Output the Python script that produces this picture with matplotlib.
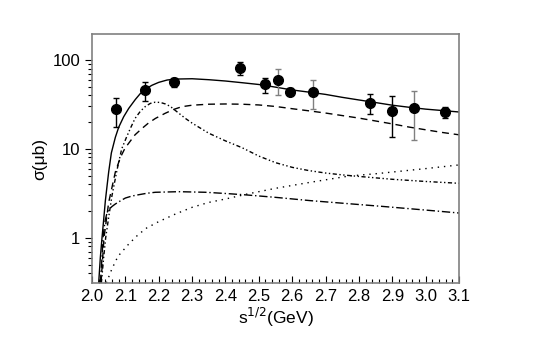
import numpy as np
import matplotlib
matplotlib.use("Agg")
import matplotlib.pyplot as plt
from matplotlib.ticker import MultipleLocator, LogLocator, FixedLocator, NullFormatter

plt.rcParams['font.family'] = ['Liberation Sans', 'DejaVu Sans']

# ==============================
# Data
# ==============================
data_x = [2.071, 2.160, 2.245, 2.445, 2.520, 2.557, 2.593, 2.663, 2.834, 2.900, 2.964, 3.057]
data_y = [27.9, 45.7, 56.0, 80.7, 53.4, 59.6, 44.0, 43.4, 33.0, 26.9, 28.9, 26.0]
err_hi = [37.7, 56.0, 62.0, 95.0, 63.0, 79.0, 48.0, 59.0, 41.0, 39.8, 44.5, 29.4]
err_lo = [17.5, 35.0, 49.8, 68.0, 43.0, 40.0, 40.0, 28.0, 24.5, 13.5, 12.6, 22.3]
gray_bars = [2.557, 2.663, 2.964]

# total (solid)
tot_x = [2.020, 2.025, 2.030, 2.035, 2.040, 2.045, 2.050, 2.058, 2.070, 2.080, 2.095,
         2.110, 2.130, 2.145, 2.160, 2.180, 2.200, 2.225, 2.250, 2.300, 2.350, 2.400,
         2.450, 2.500, 2.550, 2.600, 2.650, 2.700, 2.750, 2.800, 2.850, 2.900, 2.950,
         3.000, 3.050, 3.100]
tot_y = [0.31, 0.60, 1.00, 1.60, 2.60, 3.80, 5.50, 9.00, 13.5, 17.5, 23.0,
         28.5, 36.0, 42.0, 47.0, 52.0, 56.0, 59.5, 61.0, 61.5, 60.0, 58.0,
         55.5, 53.0, 49.5, 46.0, 43.5, 41.0, 38.0, 35.5, 33.2, 31.0, 29.4,
         28.0, 27.0, 26.0]

# dashed
dsh_x = [2.027, 2.036, 2.050, 2.070, 2.085, 2.099, 2.129, 2.150, 2.169, 2.190, 2.219,
         2.245, 2.269, 2.300, 2.350, 2.400, 2.450, 2.500, 2.550, 2.600, 2.650, 2.700,
         2.750, 2.800, 2.850, 2.900, 2.950, 3.000, 3.050, 3.100]
dsh_y = [0.31, 1.00, 2.50, 5.50, 8.00, 10.2, 14.4, 17.0, 19.5, 22.0, 25.1,
         27.8, 29.8, 31.0, 31.8, 32.0, 31.8, 31.2, 30.0, 28.3, 26.8, 25.3,
         23.7, 22.2, 20.6, 19.1, 17.6, 16.4, 15.3, 14.4]

# dash-dot-dot
ddd_x = [2.028, 2.035, 2.041, 2.050, 2.060, 2.075, 2.089, 2.104, 2.115, 2.129, 2.145,
         2.160, 2.175, 2.189, 2.205, 2.220, 2.235, 2.250, 2.280, 2.300, 2.350, 2.400,
         2.450, 2.500, 2.550, 2.600, 2.650, 2.700, 2.750, 2.800, 2.900, 3.000, 3.100]
ddd_y = [0.31, 0.60, 1.00, 1.70, 3.00, 5.80, 10.0, 13.7, 17.0, 22.0, 26.5,
         30.0, 32.5, 33.5, 33.3, 32.0, 30.0, 27.0, 22.0, 19.5, 15.0, 12.3,
         10.3, 8.3, 7.0, 6.2, 5.7, 5.35, 5.1, 4.9, 4.55, 4.3, 4.1]

# dash-dot
dd_x = [2.025, 2.030, 2.033, 2.037, 2.040, 2.045, 2.050, 2.060, 2.070, 2.085, 2.100,
        2.120, 2.140, 2.165, 2.190, 2.260, 2.340, 2.400, 2.460, 2.550, 2.653, 2.750,
        2.873, 3.000, 3.100]
dd_y = [0.31, 0.60, 1.00, 1.35, 1.60, 1.90, 2.07, 2.25, 2.40, 2.60, 2.80,
        2.95, 3.05, 3.17, 3.25, 3.30, 3.25, 3.15, 3.04, 2.85, 2.62, 2.45,
        2.25, 2.05, 1.90]

# dotted
dot_x = [2.043, 2.060, 2.078, 2.110, 2.138, 2.164, 2.200, 2.250, 2.300, 2.350, 2.404,
         2.464, 2.550, 2.653, 2.770, 2.850, 2.923, 3.000, 3.100]
dot_y = [0.31, 0.45, 0.62, 0.85, 1.08, 1.29, 1.52, 1.85, 2.20, 2.50, 2.75,
         3.10, 3.60, 4.20, 4.95, 5.25, 5.60, 6.00, 6.60]

# ==============================
# Plot
# ==============================
fig = plt.figure(figsize=(5.39, 3.51), dpi=100)
ax = fig.add_axes([92 / 539, 1 - 283 / 351, (459 - 92) / 539, (283 - 34) / 351])

lw = 1.0
ax.plot(tot_x, tot_y, color="black", lw=lw)
ax.plot(dsh_x, dsh_y, color="black", lw=lw, dashes=(5, 3.5))
ax.plot(ddd_x, ddd_y, color="black", lw=lw, dashes=(3, 1.8, 1, 1.8, 1, 1.8))
ax.plot(dd_x, dd_y, color="black", lw=lw, dashes=(6, 2, 1, 2))
ax.plot(dot_x, dot_y, color="black", lw=lw, dashes=(1, 3.5))

for x, y, hi, lo in zip(data_x, data_y, err_hi, err_lo):
    ec = "#808080" if x in gray_bars else "black"
    ax.errorbar([x], [y], yerr=[[y - lo], [hi - y]], fmt="o", color="black",
                ecolor=ec, ms=7, elinewidth=1.0, capsize=2.5, capthick=1.0)

ax.set_yscale("log")
ax.set_xlim(2.0, 3.1)
ax.set_ylim(0.31, 196)

ax.set_xticks(np.arange(2.0, 3.101, 0.1))
ax.set_xticklabels([f"{v:.1f}" for v in np.arange(2.0, 3.101, 0.1)])
ax.xaxis.set_minor_locator(MultipleLocator(0.02))

ax.yaxis.set_major_locator(FixedLocator([1, 10, 100]))
ax.set_yticklabels(["1", "10", "100"])
ax.yaxis.set_minor_locator(LogLocator(base=10, subs=np.arange(2, 10)))
ax.yaxis.set_minor_formatter(NullFormatter())

ax.tick_params(axis="x", which="major", direction="in", length=5, width=0.8, labelsize=12, pad=4)
ax.tick_params(axis="x", which="minor", direction="in", length=3, width=0.8)
ax.tick_params(axis="y", which="major", direction="out", length=5, width=0.8, labelsize=12)
ax.tick_params(axis="y", which="minor", direction="out", length=3, width=0.8)

for s in ax.spines.values():
    s.set_color("#808080")
    s.set_linewidth(1.2)

ax.set_xlabel(r"s$^{1/2}$(GeV)", fontsize=12.5, labelpad=2)
ax.set_ylabel("σ(μb)", fontsize=12.5, labelpad=4)

fig.savefig("out.png", dpi=100)
